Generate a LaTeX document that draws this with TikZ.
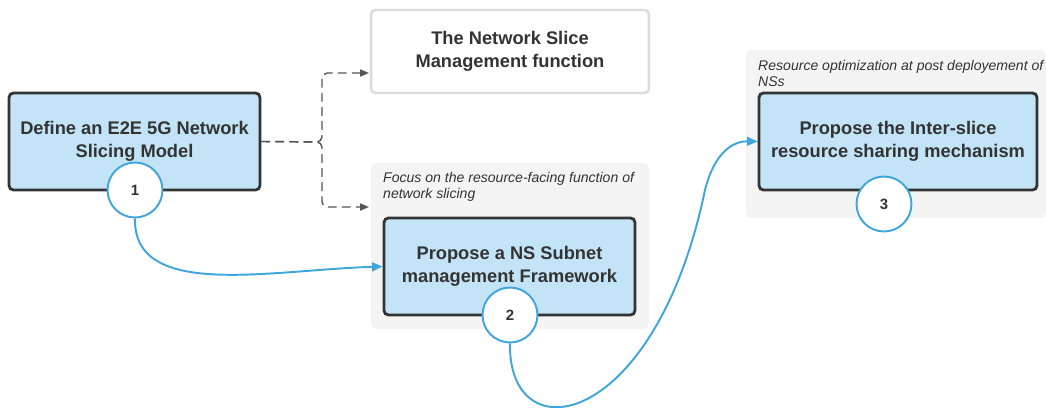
\documentclass[tikz,border=0pt]{standalone}
\usepackage{fontspec}
\setmainfont{Liberation Sans}
\usetikzlibrary{positioning,arrows.meta}

\definecolor{boxblue}{HTML}{C3E4F6}
\definecolor{boxline}{HTML}{333333}
\definecolor{flowblue}{HTML}{3EA6DC}
\definecolor{groupgray}{HTML}{F4F4F4}
\definecolor{dashgray}{HTML}{555555}

\begin{document}
\begin{tikzpicture}[x=0.02cm,y=-0.02cm,
  stepbox/.style={draw=boxline, line width=1.6pt, fill=boxblue, rounded corners=2.5pt,
    minimum width=#1, minimum height=1.94cm, align=center,
    font=\fontsize{10.4}{13}\selectfont\bfseries, text=boxline},
  numcirc/.style={circle, draw=flowblue, line width=1.1pt, fill=white, minimum size=1.1cm,
    font=\fontsize{8.5}{9}\selectfont\bfseries, text=boxline},
  groupbg/.style={fill=groupgray, rounded corners=3pt},
  note/.style={anchor=north west, align=left, font=\fontsize{8}{9}\selectfont\itshape, text=boxline},
  dashline/.style={draw=dashgray, line width=0.8pt, dash pattern=on 5pt off 3pt, rounded corners=3pt,
    -{Triangle[length=5pt,width=4pt]}},
  flow/.style={draw=flowblue, line width=1.1pt, -{Triangle[length=6pt,width=5pt]}}]

\useasboundingbox (0,0) rectangle (1046,407);

% groups
\fill[groupbg] (371,163) rectangle (649,329);
\fill[groupbg] (746,50) rectangle (1046,218);
\node[note] (focus) at (377,166) {Focus on the resource-facing function of\\network slicing};
\node[note] (optim) at (752,54) {Resource optimization at post deployement of\\NSs};

% boxes
\node[stepbox=5.02cm] (define) at (134.5,141.5) {Define an E2E 5G Network\\Slicing Model};
\node[draw=black!14, line width=1.4pt, fill=white, rounded corners=2.5pt, minimum width=5.56cm,
  minimum height=1.66cm, align=center, font=\fontsize{10.4}{13}\selectfont\bfseries, text=boxline]
  (nsmf) at (510,51.5) {The Network Slice\\Management function};
\node[stepbox=5.02cm] (subnet) at (509.5,266.5) {Propose a NS Subnet\\management Framework};
\node[stepbox=5.56cm] (share) at (898,141.5) {Propose the Inter-slice\\resource sharing mechanism};

\node[numcirc] (n1) at (135,190) {1};
\node[numcirc] (n2) at (510,315) {2};
\node[numcirc] (n3) at (884,204) {3};

% dashed split
\coordinate (split) at (322,142);
\coordinate (tipA) at (369,73);
\coordinate (tipB) at (369,207);
\draw[dashline] (define.east) -- (split) |- (tipA);
\draw[dashline] (define.east) -- (split) |- (tipB);

% flows
\draw[flow] (n1.south) .. controls (133,300) and (270,270) .. (subnet.west);
\draw[flow] (n2.south) .. controls (508,455) and (655,430) .. (705,190) .. controls (715,150) and (735,141) .. (share.west);

\end{tikzpicture}
\end{document}
